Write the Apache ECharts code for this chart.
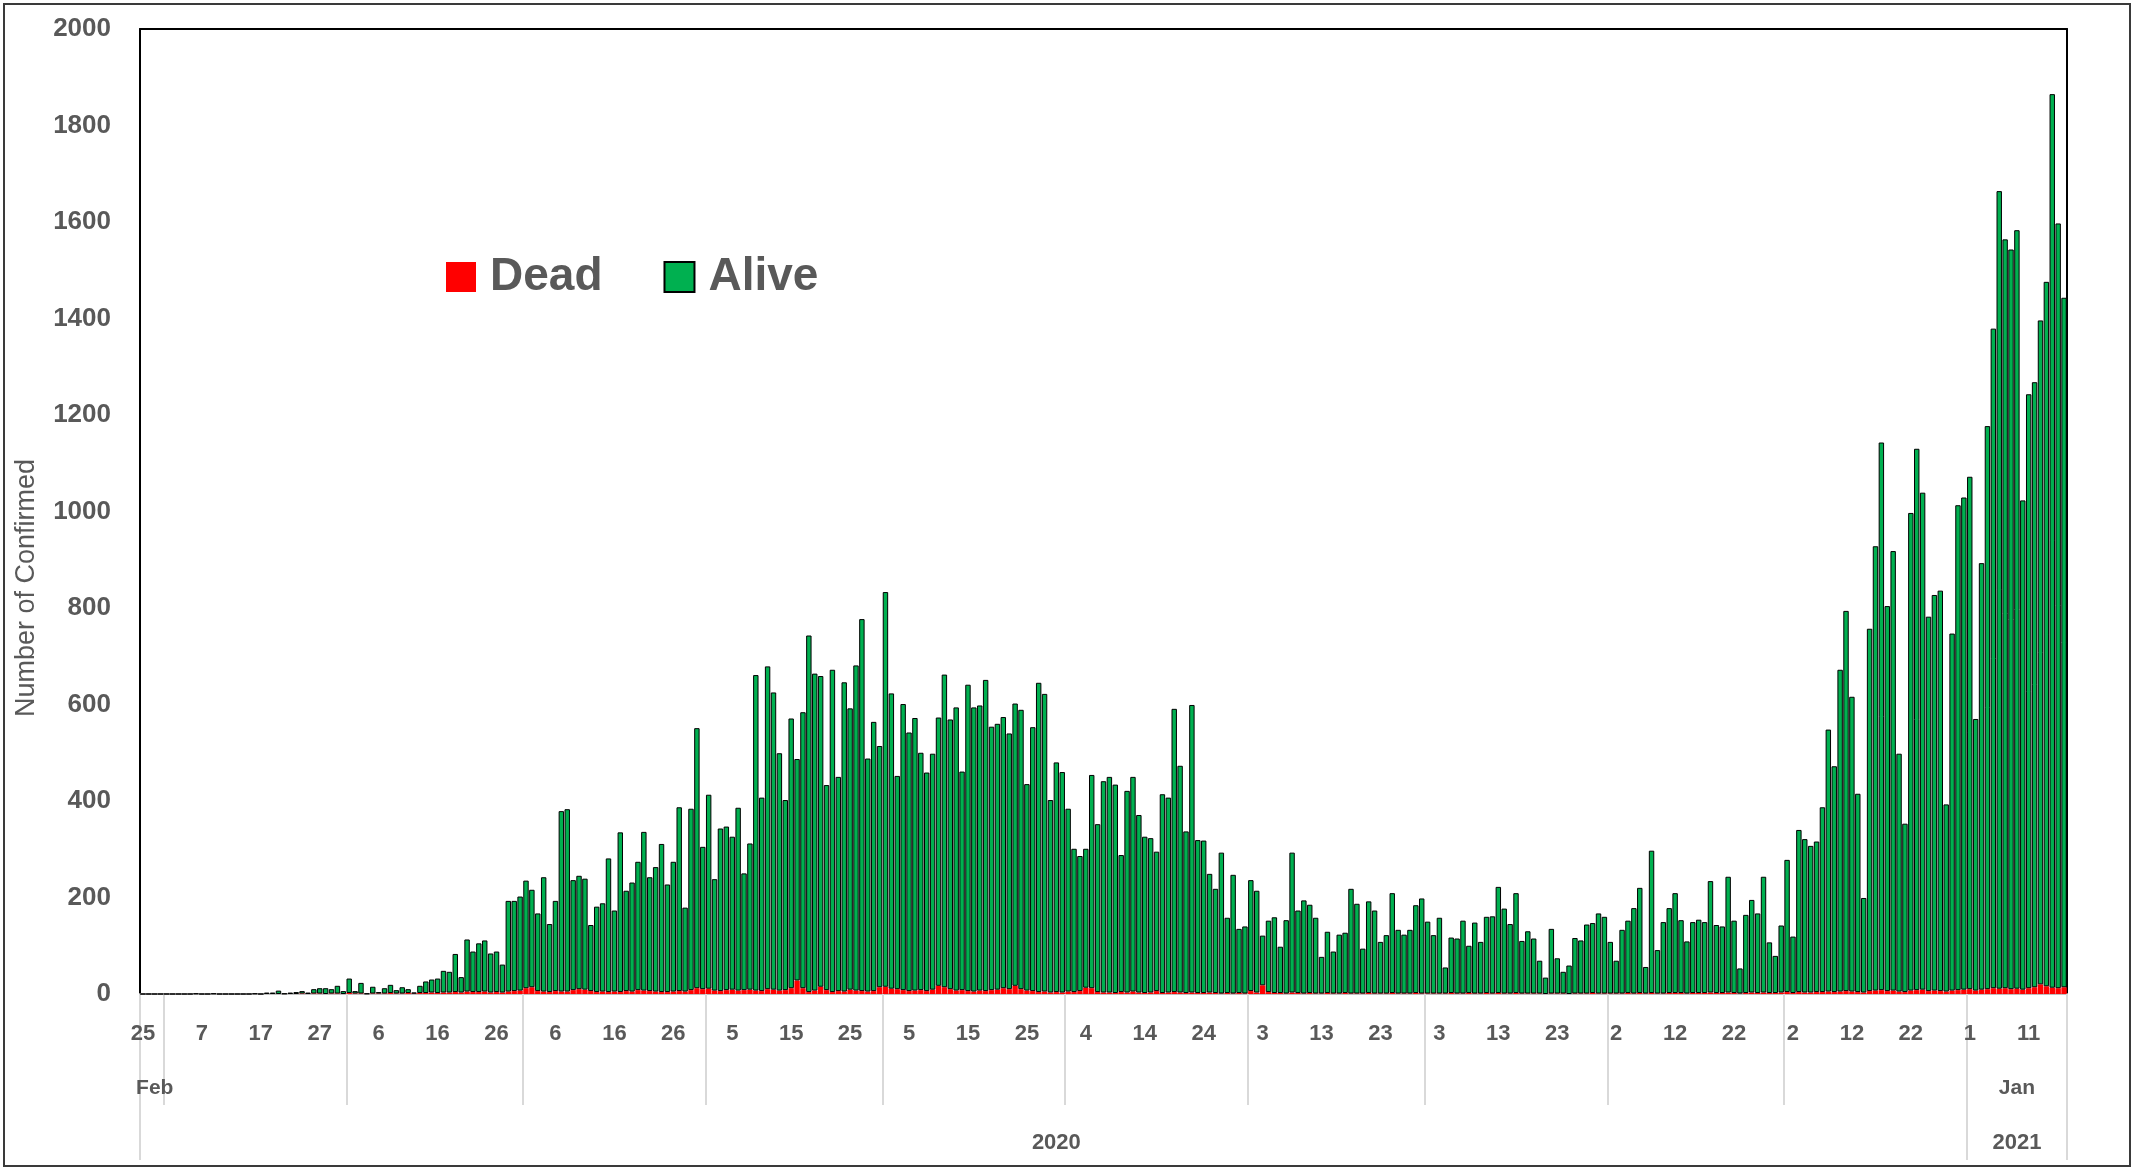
<!DOCTYPE html>
<html>
<head>
<meta charset="utf-8">
<style>
html,body{margin:0;padding:0;background:#fff;}
#chart{width:2134px;height:1170px;}
</style>
<script src="https://cdn.jsdelivr.net/npm/echarts@6/dist/echarts.min.js"></script>
</head>
<body>
<div id="chart"></div>
<script>
// ---- DATA ----
// Month spans of the daily categories (the source has no Feb 29)
const monthSpans = [
  ['2020-02', 25, 28], ['2020-03', 1, 31], ['2020-04', 1, 30], ['2020-05', 1, 31],
  ['2020-06', 1, 30], ['2020-07', 1, 31], ['2020-08', 1, 31], ['2020-09', 1, 30],
  ['2020-10', 1, 31], ['2020-11', 1, 30], ['2020-12', 1, 31], ['2021-01', 1, 17]
];
// Month names shown on the second label row (only these appear in the reference)
const monthTickLabels = { '2020-02': 'Feb', '2021-01': 'Jan' };
// Year labels on the third row
const yearTickLabels = ['2020', '2021'];
// Y axis ticks
const yTicks = [0, 200, 400, 600, 800, 1000, 1200, 1400, 1600, 1800, 2000];
const seriesNames = ['Dead', 'Alive'];

// Daily confirmed (total bar height)
const confirmed = [
  0,0,0,0,0,0,0,0,0,1,
  0,0,1,0,0,0,0,0,0,1,
  0,3,3,7,1,3,4,6,3,10,
  12,12,10,17,6,32,6,23,1,15,
  4,12,19,8,14,10,3,17,26,30,
  32,48,46,83,35,113,88,105,111,84,
  88,61,193,193,202,235,216,167,242,145,
  193,379,383,236,245,239,143,181,188,281,
  173,335,214,231,274,336,242,263,311,227,
  274,387,179,384,551,305,413,238,343,347,
  326,386,250,312,661,407,679,625,499,402,
  571,487,584,743,664,659,433,672,450,646,
  592,681,777,488,564,514,833,623,452,601,
  542,572,500,459,498,573,662,569,594,461,
  641,594,598,651,554,560,574,540,602,589,
  435,553,645,622,402,480,460,384,301,286,
  301,454,352,441,450,434,288,421,450,371,
  326,323,295,414,407,591,473,337,599,319,
  318,249,218,293,158,247,135,140,236,214,
  121,152,159,98,153,293,173,194,185,158,
  77,129,88,123,127,218,187,94,192,173,
  108,122,209,133,123,133,184,198,150,122,
  158,55,117,115,152,100,148,108,160,161,
  222,177,145,209,110,130,115,69,34,135,
  74,46,59,116,111,144,147,167,160,108,
  69,133,152,178,220,56,297,91,149,178,
  209,153,109,149,154,149,234,143,140,243,
  152,53,164,195,167,243,107,79,142,278,
  119,340,321,307,316,387,548,472,672,794,
  616,415,199,757,928,1143,804,918,498,353,
  997,1130,1039,782,827,836,393,747,1013,1029,
  1072,570,893,1177,1379,1664,1564,1543,1583,1023,
  1243,1268,1396,1476,1865,1597,1443
];
// Daily dead (red part at the bottom of each bar)
const dead = [
  0,0,0,0,0,0,0,0,0,0,
  0,0,0,0,0,0,0,0,0,0,
  0,0,0,0,0,0,0,1,0,1,
  1,0,1,1,0,2,1,1,0,1,
  1,1,2,1,1,2,1,2,2,3,
  2,3,3,4,3,5,4,4,5,3,
  4,3,5,6,7,12,14,6,5,4,
  6,5,5,8,10,9,6,4,5,4,
  5,4,6,5,8,7,6,5,4,4,
  5,6,5,8,12,10,11,7,6,8,
  9,7,8,9,7,6,10,9,7,8,
  12,28,12,4,7,15,8,4,6,5,
  9,7,6,5,6,14,15,11,10,8,
  6,7,8,6,9,17,14,10,7,8,
  6,5,7,6,8,9,12,10,17,10,
  7,6,4,5,3,4,3,5,4,6,
  13,12,4,3,3,2,4,3,5,3,
  2,3,6,2,3,4,3,2,3,2,
  2,3,2,1,2,1,2,1,6,3,
  18,4,2,2,1,3,2,1,2,1,
  1,2,1,1,2,1,1,1,2,1,
  1,1,2,1,1,1,2,1,1,1,
  1,1,2,1,1,2,1,1,2,1,
  2,1,1,2,1,1,1,1,0,1,
  1,1,0,1,1,1,2,1,1,1,
  1,1,2,1,2,1,2,1,1,2,
  2,2,1,2,2,2,3,2,2,3,
  2,1,2,3,2,3,2,2,3,4,
  2,4,3,3,4,4,5,4,5,6,
  5,4,3,6,7,8,6,7,5,4,
  7,8,9,6,7,6,5,7,8,9,
  10,7,9,10,12,11,12,10,11,9,
  12,14,20,16,13,12,14
];

// ---- derived structures ----
const categories = [];
monthSpans.forEach(function (m) {
  for (let d = m[1]; d <= m[2]; d++) {
    categories.push(m[0] + '-' + (d < 10 ? '0' + d : '' + d));
  }
});
const alive = confirmed.map(function (v, i) { return v - dead[i]; });

// first index of every month and every year, and middle index of labelled segments
const monthStart = {};
const yearStart = {};
categories.forEach(function (c, i) {
  const ym = c.slice(0, 7), y = c.slice(0, 4);
  if (!(ym in monthStart)) monthStart[ym] = i;
  if (!(y in yearStart)) yearStart[y] = i;
});
const monthStartIdx = {};
Object.keys(monthStart).forEach(function (k) { monthStartIdx[monthStart[k]] = true; });
const yearStartIdx = {};
Object.keys(yearStart).forEach(function (k) { yearStartIdx[yearStart[k]] = true; });

function segMid(startIdx, endIdxExcl) { return Math.floor((startIdx + endIdxExcl) / 2); }
const monthKeys = Object.keys(monthStart);
const monthLabelIdx = {};
monthKeys.forEach(function (k, j) {
  if (monthTickLabels[k]) {
    const s = monthStart[k];
    const e = j + 1 < monthKeys.length ? monthStart[monthKeys[j + 1]] : categories.length;
    monthLabelIdx[segMid(s, e)] = monthTickLabels[k];
  }
});
const yearKeys = Object.keys(yearStart);
const yearLabelIdx = {};
yearKeys.forEach(function (k, j) {
  const s = yearStart[k];
  const e = j + 1 < yearKeys.length ? yearStart[yearKeys[j + 1]] : categories.length;
  if (yearTickLabels.indexOf(k) >= 0) yearLabelIdx[segMid(s, e)] = k;
});

// ---- chart ----
const FONT = '"Liberation Sans", Arial, sans-serif';
const GREY = '#595959';
const chart = echarts.init(document.getElementById('chart'), null, { renderer: 'canvas' });

const option = {
  animation: false,
  backgroundColor: '#ffffff',
  textStyle: { fontFamily: FONT },
  grid: { left: 140, right: 67, top: 29, bottom: 176, containLabel: false, outerBoundsMode: 'none' },
  legend: {
    data: seriesNames,
    left: 441, top: 249,
    icon: 'rect',
    itemWidth: 30, itemHeight: 30, itemGap: 61,
    textStyle: { fontSize: 46, fontWeight: 'bold', color: GREY, fontFamily: FONT, padding: [0, 0, 0, 9], lineHeight: 46 }
  },
  xAxis: [
    { // day labels
      type: 'category', data: categories, position: 'bottom', offset: 0,
      axisLine: { show: true, lineStyle: { color: '#bfbfbf', width: 2 } },
      axisTick: { show: false },
      axisLabel: {
        interval: function (i) { return i % 10 === 0; },
        formatter: function (v) { return String(parseInt(v.slice(8), 10)); },
        fontSize: 22, fontWeight: 'bold', color: GREY, fontFamily: FONT, margin: 29
      },
      splitLine: { show: false }
    },
    { // month row
      type: 'category', data: categories, position: 'bottom', offset: 0,
      axisLine: { show: false },
      axisTick: {
        show: true, length: 111,
        interval: function (i) { return !!monthStartIdx[i]; },
        lineStyle: { color: '#d9d9d9', width: 2 }
      },
      axisLabel: {
        interval: function (i) { return !!monthLabelIdx[i]; },
        formatter: function (v, i) { return monthLabelIdx[i] || ''; },
        fontSize: 21, fontWeight: 'bold', color: GREY, fontFamily: FONT, margin: 84
      },
      splitLine: { show: false }
    },
    { // year row
      type: 'category', data: categories, position: 'bottom', offset: 0,
      axisLine: { show: false },
      axisTick: {
        show: true, length: 166,
        interval: function (i) { return !!yearStartIdx[i]; },
        lineStyle: { color: '#d9d9d9', width: 2 }
      },
      axisLabel: {
        interval: function (i) { return !!yearLabelIdx[i]; },
        formatter: function (v, i) { return yearLabelIdx[i] || ''; },
        fontSize: 22, fontWeight: 'bold', color: GREY, fontFamily: FONT, margin: 138
      },
      splitLine: { show: false }
    },
    { // top frame line
      type: 'category', data: categories, position: 'top',
      axisLine: { show: true, lineStyle: { color: '#000', width: 2 } },
      axisTick: { show: false }, axisLabel: { show: false }, splitLine: { show: false }
    }
  ],
  yAxis: [
    {
      type: 'value', min: yTicks[0], max: yTicks[yTicks.length - 1], interval: yTicks[1] - yTicks[0],
      position: 'left',
      axisLine: { show: true, lineStyle: { color: '#000', width: 2 } },
      axisTick: { show: false },
      splitLine: { show: false },
      axisLabel: {
        formatter: function (v) { return String(v); },
        fontSize: 26, fontWeight: 'bold', color: GREY, fontFamily: FONT, margin: 29
      }
    },
    {
      type: 'value', min: yTicks[0], max: yTicks[yTicks.length - 1], interval: yTicks[1] - yTicks[0],
      position: 'right',
      axisLine: { show: true, lineStyle: { color: '#000', width: 2 } },
      axisTick: { show: false }, splitLine: { show: false }, axisLabel: { show: false }
    }
  ],
  graphic: [
    {
      type: 'rect', silent: true, z: 100,
      shape: { x: 4, y: 4, width: 2126, height: 1162 },
      style: { fill: 'none', stroke: '#3a3a3a', lineWidth: 2 }
    },
    {
      type: 'text', x: 27, y: 588, rotation: Math.PI / 2, silent: true,
      style: { text: 'Number of Confirmed', fontSize: 27, fontFamily: FONT, fill: GREY, align: 'center', verticalAlign: 'middle' }
    }
  ],
  series: [
    {
      name: seriesNames[0], type: 'bar', stack: 'total', xAxisIndex: 0, yAxisIndex: 0,
      data: dead, barCategoryGap: '8%',
      itemStyle: { color: '#FF0000', borderWidth: 0 }
    },
    {
      name: seriesNames[1], type: 'bar', stack: 'total', xAxisIndex: 0, yAxisIndex: 0,
      data: alive, barCategoryGap: '8%',
      itemStyle: { color: '#00B050', borderColor: '#000000', borderWidth: 1 }
    }
  ]
};
chart.setOption(option);
</script>
</body>
</html>
